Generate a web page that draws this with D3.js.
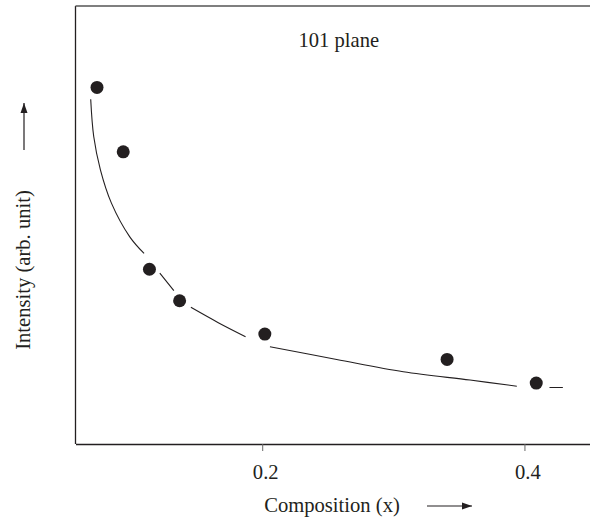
<!DOCTYPE html>
<html>
<head>
<meta charset="utf-8">
<script src="https://cdn.jsdelivr.net/npm/d3@7"></script>
<style>
  html, body { margin: 0; padding: 0; background: #fff; }
  svg { display: block; }
  text { font-family: "Liberation Serif", "Times New Roman", serif; fill: #231f20; }
</style>
</head>
<body>
<script>
// Measured composition (x) and relative intensity (arbitrary units)
const composition = [0.074, 0.094, 0.114, 0.137, 0.202, 0.341, 0.409];
const intensity   = [81.4, 66.7, 39.9, 32.7, 25.1, 19.3, 13.9];

// Guide curve through the data, drawn as broken segments (null = gap)
const fitX = [0.0692, 0.0715, 0.0766, 0.0850, 0.0990, 0.1099, null,
              0.1219, 0.1326, null,
              0.1456, 0.1665, 0.1873, null,
              0.2059, 0.2568, 0.3076, 0.3585, 0.3942, null,
              0.4191, 0.4293];
const fitY = [78.7, 70.2, 62.6, 55.0, 47.3, 43.5, null,
              39.0, 35.0, null,
              31.2, 27.7, 24.5, null,
              22.2, 19.3, 16.5, 14.6, 13.2, null,
              12.9, 12.9];

const xTicks = [0.2, 0.4];
const xTickLabels = ["0.2", "0.4"];
const titleText = "101 plane";
const xLabel = "Composition (x)";
const yLabel = "Intensity (arb. unit)";

const W = 590, H = 519;
const margin = { left: 75.5, top: 6 };
const plotW = 530, plotH = 438;
const ink = "#231f20";
const fontSize = 20.6;

const svg = d3.select("body").append("svg")
  .attr("width", W).attr("height", H);

const defs = svg.append("defs");
defs.append("marker")
  .attr("id", "arrowhead")
  .attr("viewBox", "0 0 10 10")
  .attr("refX", 10).attr("refY", 5)
  .attr("markerWidth", 10).attr("markerHeight", 10)
  .attr("markerUnits", "userSpaceOnUse")
  .attr("orient", "auto")
  .append("path")
  .attr("d", "M0,1.5 L10,5 L0,8.5 Z")
  .attr("fill", ink);

const g = svg.append("g")
  .attr("transform", `translate(${margin.left},${margin.top})`);

const x = d3.scaleLinear().domain([0.0576, 0.0576 + 0.3924 * plotW / 514.5]).range([0, plotW]);
const y = d3.scaleLinear().domain([0, 100]).range([plotH, 0]);

// Frame: left, top and bottom edges
g.append("line").attr("x1", 0).attr("x2", 0).attr("y1", 0).attr("y2", plotH)
  .attr("stroke", ink).attr("stroke-width", 1.3);
g.append("line").attr("x1", 0).attr("x2", plotW).attr("y1", 0).attr("y2", 0)
  .attr("stroke", "#555").attr("stroke-width", 1.3);

// Bottom axis with downward ticks
const xAxis = d3.axisBottom(x)
  .tickValues(xTicks)
  .tickFormat((d, i) => xTickLabels[i])
  .tickSize(7)
  .tickPadding(13)
  .tickSizeOuter(0);
const ax = g.append("g").attr("transform", `translate(0,${plotH})`).call(xAxis);
ax.select(".domain").attr("stroke", ink).attr("stroke-width", 1.3);
ax.selectAll(".tick line").attr("stroke", "#666").attr("stroke-width", 1);
ax.selectAll(".tick text")
  .attr("font-family", "Liberation Serif, serif")
  .attr("font-size", fontSize)
  .attr("dx", 3)
  .attr("fill", ink);

// Guide curve
const fitPts = fitX.map((d, i) => ({ x: d, y: fitY[i] }));
const line = d3.line()
  .defined(d => d.x !== null)
  .x(d => x(d.x)).y(d => y(d.y))
  .curve(d3.curveCatmullRom.alpha(0.5));
g.append("path")
  .datum(fitPts)
  .attr("d", line)
  .attr("fill", "none")
  .attr("stroke", ink)
  .attr("stroke-width", 1.1);

// Data points
g.selectAll("circle.pt")
  .data(composition.map((d, i) => ({ x: d, y: intensity[i] })))
  .join("circle")
  .attr("class", "pt")
  .attr("cx", d => x(d.x))
  .attr("cy", d => y(d.y))
  .attr("r", 6.5)
  .attr("fill", ink);

// Title inside the frame
g.append("text")
  .attr("x", x(0.2584)).attr("y", 41)
  .attr("text-anchor", "middle")
  .attr("font-size", fontSize)
  .text(titleText);

// X-axis label with arrow
svg.append("text")
  .attr("x", 332).attr("y", 512)
  .attr("text-anchor", "middle")
  .attr("font-size", fontSize)
  .text(xLabel);
svg.append("line")
  .attr("x1", 427).attr("x2", 472).attr("y1", 506).attr("y2", 506)
  .attr("stroke", ink).attr("stroke-width", 1.2)
  .attr("marker-end", "url(#arrowhead)");

// Y-axis label with arrow
svg.append("text")
  .attr("transform", "translate(29.5,270) rotate(-90)")
  .attr("text-anchor", "middle")
  .attr("font-size", fontSize)
  .text(yLabel);
svg.append("line")
  .attr("x1", 24).attr("x2", 24).attr("y1", 150).attr("y2", 103)
  .attr("stroke", ink).attr("stroke-width", 1.2)
  .attr("marker-end", "url(#arrowhead)");
</script>
</body>
</html>
